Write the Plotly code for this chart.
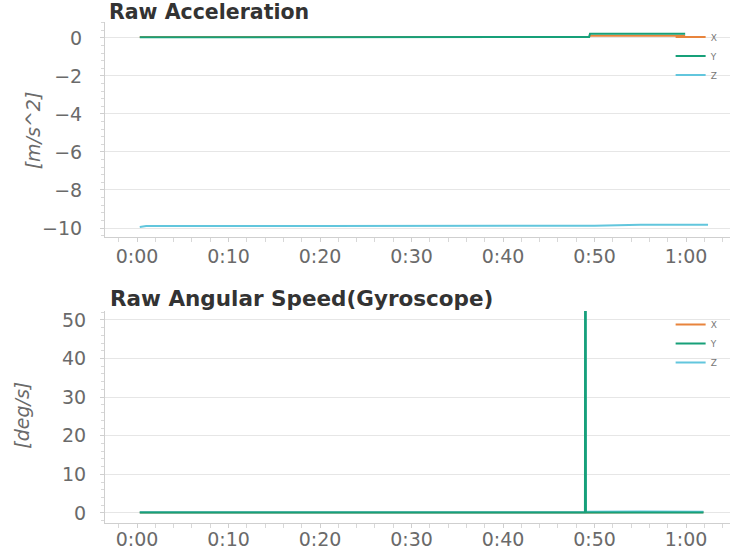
import plotly.graph_objects as go
from plotly.subplots import make_subplots

# ---- data (time in seconds) ----
acc_t = [0.3, 10, 20, 30, 40, 49.4, 49.5, 55, 59.9]
acc_x = [0.05, 0.05, 0.05, 0.05, 0.05, 0.05, 0.12, 0.12, 0.12]
acc_y = [0.04, 0.04, 0.04, 0.04, 0.05, 0.05, 0.22, 0.22, 0.22]
acc_z_t = [0.3, 1.0, 20, 40, 50, 55, 62.4]
acc_z = [-9.95, -9.9, -9.9, -9.9, -9.88, -9.83, -9.83]

gyro_t = [0.3, 20, 40, 48.95, 49.0, 49.05, 55, 61.9]
gyro_x = [0.1, 0.1, 0.1, 0.1, 3.0, 0.1, 0.2, 0.2]
gyro_y = [0.1, 0.1, 0.1, 0.1, 180.0, 0.1, 0.1, 0.1]
gyro_z = [0.2, 0.2, 0.2, 0.2, 90.0, 0.3, 0.4, 0.3]

tick_vals = [0, 10, 20, 30, 40, 50, 60]
tick_text = ["0:00", "0:10", "0:20", "0:30", "0:40", "0:50", "1:00"]
colors = {"X": "#e8843c", "Y": "#17a079", "Z": "#62c6dd"}

fig = make_subplots(rows=2, cols=1, vertical_spacing=0.15)

def add(t, y, name, row, legend, rank):
    fig.add_trace(go.Scatter(x=t, y=y, mode="lines", name=name,
                             line=dict(color=colors[name], width=2),
                             legend=legend, legendrank=rank),
                  row=row, col=1)

add(acc_t, acc_x, "X", 1, "legend", 1)
add(acc_t, acc_y, "Y", 1, "legend", 2)
add(acc_z_t, acc_z, "Z", 1, "legend", 3)
add(gyro_t, gyro_x, "X", 2, "legend2", 1)
add(gyro_t, gyro_z, "Z", 2, "legend2", 3)
add(gyro_t, gyro_y, "Y", 2, "legend2", 2)

FONT = "DejaVu Sans"
tickfont = dict(family=FONT, size=19, color="#6a6a6a")
xcommon = dict(range=[-3.5, 64.8], tickvals=tick_vals, ticktext=tick_text,
               showgrid=False, zeroline=False, showline=True, linecolor="#cfcfcf",
               ticks="outside", ticklen=4, tickcolor="#cfcfcf", automargin=False,
               minor=dict(dtick=2, ticks="outside", ticklen=4, tickcolor="#d8d8d8"),
               tickfont=tickfont)
fig.update_xaxes(**xcommon, domain=[0, 1])
fig.update_xaxes(ticklabelstandoff=-2, row=1, col=1)
fig.update_xaxes(ticklabelstandoff=-5, row=2, col=1)
ycommon = dict(showgrid=True, gridcolor="#e6e6e6", zeroline=False,
               showline=True, linecolor="#cfcfcf", ticks="outside", ticklen=4,
               tickcolor="#cfcfcf", automargin=False,
               tickfont=tickfont)
fig.update_layout(
    yaxis=dict(domain=[0.571, 1.0], range=[-10.47, 0.84],
               tickvals=[0, -2, -4, -6, -8, -10],
               ticktext=["0", "\u22122", "\u22124", "\u22126", "\u22128", "\u221210"],
               ticklabelstandoff=14,
               minor=dict(dtick=0.4, ticks="outside", ticklen=3, tickcolor="#d8d8d8"),
               **ycommon),
    yaxis2=dict(domain=[0.0, 0.423], range=[-2.6, 52.3], dtick=10,
                ticklabelstandoff=10,
                minor=dict(dtick=2, ticks="outside", ticklen=3, tickcolor="#d8d8d8"),
                **ycommon),
    width=742, height=551,
    margin=dict(l=105, r=12, t=22, b=28),
    paper_bgcolor="white", plot_bgcolor="white",
    legend=dict(x=0.905, y=0.999, xanchor="left", yanchor="top",
                font=dict(family=FONT, size=9, color="#777"),
                bgcolor="rgba(0,0,0,0)", itemwidth=30, tracegroupgap=0),
    legend2=dict(x=0.905, y=0.425, xanchor="left", yanchor="top",
                 font=dict(family=FONT, size=9, color="#777"),
                 bgcolor="rgba(0,0,0,0)", itemwidth=30, tracegroupgap=0),
)

fig.add_annotation(text="Raw Acceleration", xref="paper", yref="paper",
                   x=0.003, y=1.02, xanchor="left", yanchor="middle",
                   showarrow=False,
                   font=dict(family=FONT, size=20.5, color="#333333", weight="bold"))
fig.add_annotation(text="Raw Angular Speed(Gyroscope)", xref="paper", yref="paper",
                   x=0.005, y=0.449, xanchor="left", yanchor="middle",
                   showarrow=False,
                   font=dict(family=FONT, size=21.5, color="#333333", weight="bold"))

axtitlefont = dict(family=FONT, size=19, color="#6a6a6a", style="italic")
fig.add_annotation(text="[m/s^2]", xref="paper", yref="paper",
                   x=-0.115, y=0.784, xanchor="center", yanchor="middle",
                   textangle=-90, showarrow=False, font=axtitlefont)
fig.add_annotation(text="[deg/s]", xref="paper", yref="paper",
                   x=-0.133, y=0.216, xanchor="center", yanchor="middle",
                   textangle=-90, showarrow=False, font=axtitlefont)

fig.write_html("out.html", config={"displayModeBar": False},
               post_script="document.body.style.margin='0';document.body.style.overflow='hidden';")
